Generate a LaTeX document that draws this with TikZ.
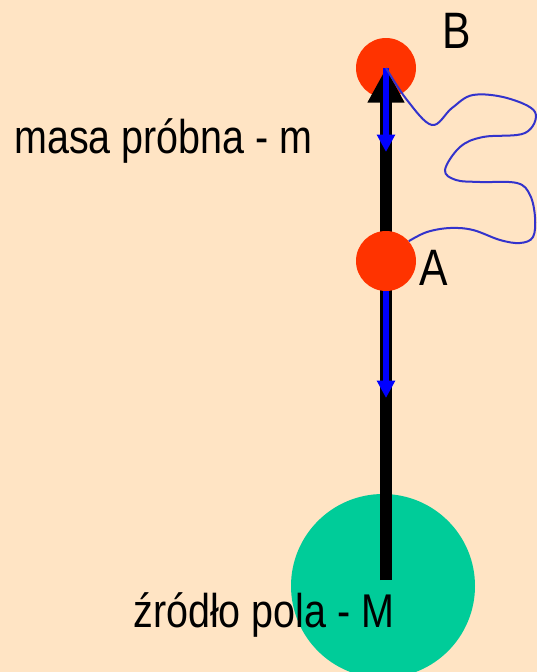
\documentclass[tikz,border=0pt]{standalone}
\usepackage{fontspec}
\setmainfont{Liberation Sans}
\usetikzlibrary{arrows.meta}
\definecolor{bg}{HTML}{FFE4C4}
\definecolor{msF}{HTML}{FF3300}
\definecolor{srcF}{HTML}{00CC99}
\definecolor{vec}{HTML}{0000FF}
\definecolor{pth}{HTML}{3333CC}
\newcommand{\tall}[1]{\scalebox{1}[1.2]{#1}}

\begin{document}
\begin{tikzpicture}[x=0.75pt,y=-0.75pt,
  mass/.style={circle,fill=msF,inner sep=0pt,minimum size=45pt},
  src/.style={circle,fill=srcF,inner sep=0pt,minimum size=138pt},
  rod/.style={line width=9pt,-{Triangle[length=26pt,width=26pt]}},
  fvec/.style={vec,line width=4.5pt,-{Triangle[length=13pt,width=13pt]}},
  lbl/.style={inner sep=0pt,anchor=base west,font=\fontsize{29.6}{32}\selectfont},
  pt/.style={inner sep=0pt,anchor=base west,font=\fontsize{32}{36}\selectfont}]

\fill[bg] (0,0) rectangle (537,672);
\useasboundingbox (0,0) rectangle (537,672);

\node[src] (M) at (383,586) {};
\node[mass] (B) at (386,68) {};
\coordinate (rodend) at (386,580);
\draw[rod] (rodend) -- (B.center);
\node[mass] (A) at (386,261) {};

% force vectors
\coordinate (fB) at (386,152);
\coordinate (fA) at (386,398);
\draw[fvec] (B.center) -- (fB);
\draw[fvec] (A.south) -- (fA);

% path from A to B
\draw[pth,line width=1.5pt] plot[smooth,tension=0.6] coordinates {(B.center) (407,100) (432,125)
  (452,108) (473,95) (507,98) (535,112) (525,133) (483,137) (460,147) (445,170) (456,180)
  (480,182) (517,183) (530,195) (535,217) (533,237) (520,243) (500,240) (473,230) (450,228)
  (427,232) (A.41)};

\node[pt] (lB) at (442,48) {\tall{B}};
\node[pt] (lA) at (419,285) {\tall{A}};
\node[lbl] (lm) at (14,153) {\tall{masa próbna - m}};
\node[lbl] (lM) at (133,627) {\tall{źródło pola - M}};

\end{tikzpicture}
\end{document}
